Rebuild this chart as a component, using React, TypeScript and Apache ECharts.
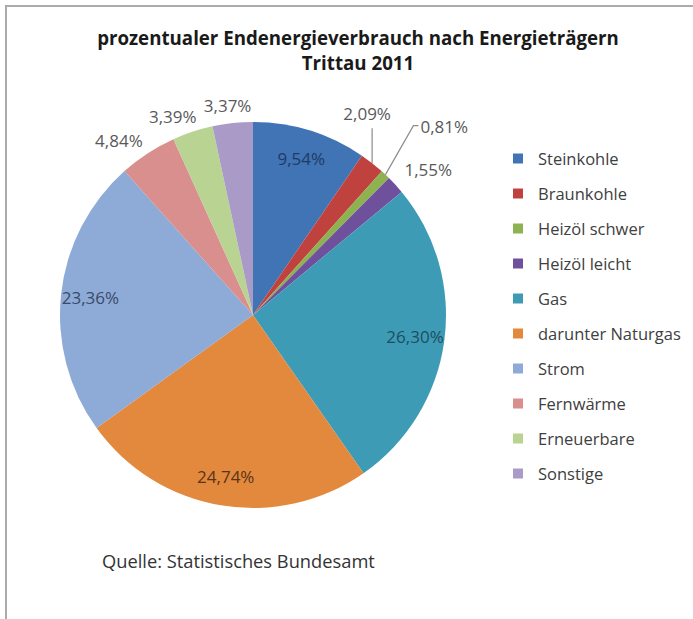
import React, { useEffect, useRef } from "react";
import * as echarts from "echarts";

const categories = [
  "Steinkohle",
  "Braunkohle",
  "Heizöl schwer",
  "Heizöl leicht",
  "Gas",
  "darunter Naturgas",
  "Strom",
  "Fernwärme",
  "Erneuerbare",
  "Sonstige",
];
const shares = [9.54, 2.09, 0.81, 1.55, 26.3, 24.74, 23.36, 4.84, 3.39, 3.37];
const colors = [
  "#4174b4",
  "#c0423f",
  "#8db250",
  "#6e509c",
  "#3e9bb6",
  "#e2893d",
  "#8eaad7",
  "#d98f8d",
  "#b9d393",
  "#a99ac8",
];
const insideLabelColors: Record<string, string> = {
  Steinkohle: "#1e3a66",
  Gas: "#1b4f60",
  "darunter Naturgas": "#5a3418",
  Strom: "#384a68",
};
const titleLines = ["prozentualer Endenergieverbrauch nach Energieträgern", "Trittau 2011"];
const sourceText = "Quelle: Statistisches Bundesamt";

const FONT = "'Open Sans', 'Noto Sans', sans-serif";
const fmt = (v: number) => v.toFixed(2).replace(".", ",") + "%";

export default function App() {
  const ref = useRef<HTMLDivElement>(null);
  useEffect(() => {
    if (!ref.current) return;
    const chart = echarts.init(ref.current, null, { renderer: "svg" });
    const isInside = (name: string) => name in insideLabelColors;
    const leaderNames = ["Braunkohle", "Heizöl schwer"];

    const mainData = categories.map((name, i) => ({
      name,
      value: shares[i],
      itemStyle: { color: colors[i] },
      label: { show: !isInside(name) },
      labelLine: {
        show: !isInside(name),
        lineStyle: {
          color: "#8c8c8c",
          width: 1.2,
          opacity: leaderNames.includes(name) ? 1 : 0,
        },
      },
    }));

    const overlayData = categories.map((name, i) => ({
      name,
      value: shares[i],
      itemStyle: { color: "rgba(0,0,0,0)" },
      label: {
        show: isInside(name),
        color: insideLabelColors[name] || "#333",
      },
    }));

    const layoutFor: Record<string, (p: number[]) => any> = {
      Braunkohle: (p) => ({
        x: p[0] - 5,
        y: p[1] - 41,
        align: "center",
        verticalAlign: "bottom",
        labelLinePoints: [p, [p[0], p[1] - 35], [p[0], p[1] - 35]],
      }),
      "Heizöl schwer": (p) => ({
        x: p[0] + 35,
        y: p[1] - 48,
        align: "left",
        verticalAlign: "middle",
        labelLinePoints: [p, [p[0] + 28, p[1] - 49], [p[0] + 33, p[1] - 49]],
      }),
      "Heizöl leicht": (p) => ({ x: p[0] + 9, y: p[1] - 15, align: "left", verticalAlign: "middle" }),
      Fernwärme: (p) => ({ x: p[0] - 5, y: p[1] - 13, align: "right", verticalAlign: "middle" }),
      Erneuerbare: (p) => ({ x: p[0] + 4, y: p[1] - 15, align: "right", verticalAlign: "middle" }),
      Sonstige: (p) => ({ x: p[0] - 5, y: p[1] - 18, align: "center", verticalAlign: "middle" }),
    };

    chart.setOption({
      animation: false,
      backgroundColor: "#ffffff",
      title: {
        text: titleLines.join("\n"),
        left: 353,
        textAlign: "center",
        top: 20,
        textStyle: {
          fontFamily: FONT,
          fontWeight: "bold",
          fontSize: 18.7,
          lineHeight: 25,
          color: "#1a1a1a",
        },
      },
      legend: {
        orient: "vertical",
        left: 508,
        top: 145,
        icon: "rect",
        itemWidth: 10,
        itemHeight: 10,
        itemGap: 18,
        data: categories,
        selectedMode: false,
        textStyle: {
          fontFamily: FONT,
          fontSize: 16.5,
          lineHeight: 16,
          color: "#404040",
          padding: [0, 0, 0, 10],
        },
      },
      graphic: [
        {
          type: "polyline",
          shape: { points: [[6, 700], [6, 6], [700, 6]] },
          style: { stroke: "#ababab", lineWidth: 2, fill: "none" },
          silent: true,
        },
        {
          type: "text",
          left: 102,
          top: 551,
          style: {
            text: sourceText,
            fontFamily: FONT,
            fontSize: 18.3,
            fill: "#333333",
          },
        },
      ],
      series: [
        {
          type: "pie",
          center: [253, 315],
          radius: [0, 193],
          startAngle: 90,
          clockwise: true,
          avoidLabelOverlap: false,
          silent: true,
          label: {
            position: "outside",
            formatter: (p: any) => fmt(p.value),
            fontFamily: FONT,
            fontSize: 17,
            color: "#595959",
          },
          labelLine: { length: 10, length2: 0 },
          labelLayout: (params: any) => {
            const name = categories[params.dataIndex];
            const f = layoutFor[name];
            const pts = params.labelLinePoints;
            if (!f || !pts) return {};
            return f(pts[0]);
          },
          data: mainData,
        },
        {
          type: "pie",
          center: [253, 315],
          radius: [128, 193],
          startAngle: 90,
          clockwise: true,
          silent: true,
          avoidLabelOverlap: false,
          label: {
            position: "inside",
            formatter: (p: any) => fmt(p.value),
            fontFamily: FONT,
            fontSize: 17,
          },
          labelLine: { show: false },
          data: overlayData,
        },
      ],
    });
    return () => chart.dispose();
  }, []);
  return (
    <div
      ref={ref}
      style={{ position: "absolute", left: 0, top: 0, width: 693, height: 619 }}
    />
  );
}
